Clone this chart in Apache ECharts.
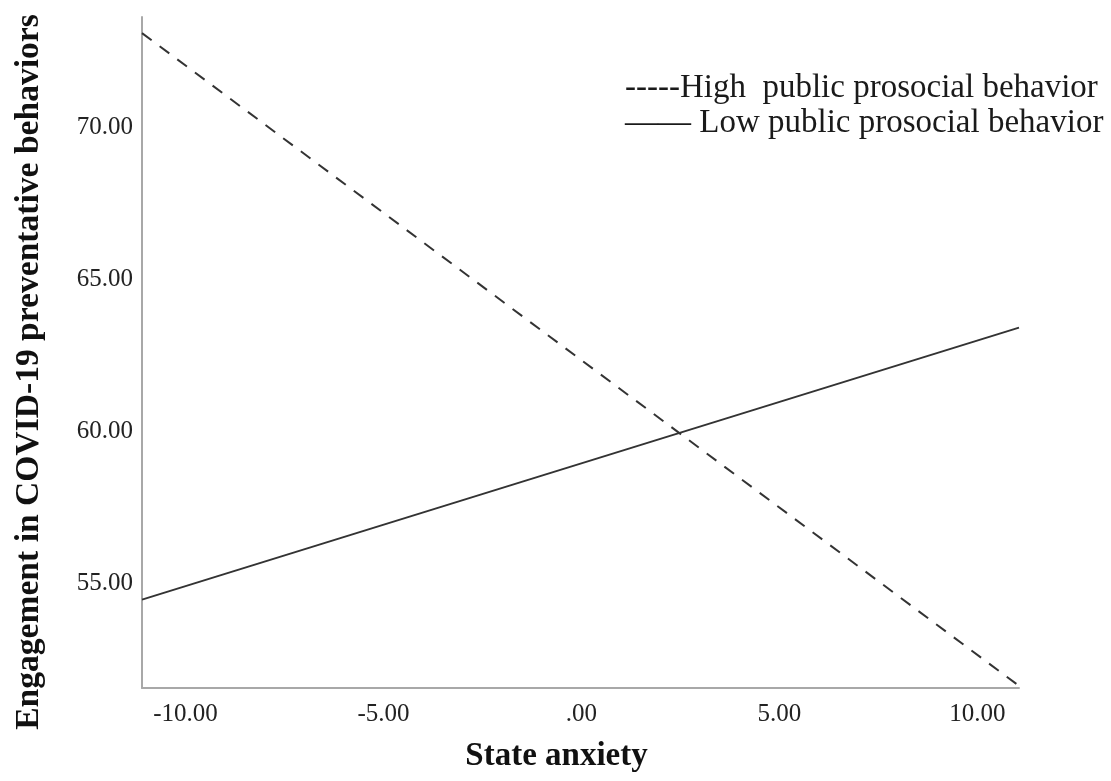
<!DOCTYPE html>
<html>
<head>
<meta charset="utf-8">
<script src="https://cdn.jsdelivr.net/npm/echarts@6/dist/echarts.min.js"></script>
<style>
html, body { margin: 0; padding: 0; background: #fff; }
#container { width: 1111px; height: 781px; }
</style>
</head>
<body>
<div id="container"></div>
<script>
var dom = document.getElementById("container");
var myChart = echarts.init(dom);

// values
var xRange = [-11.1, 11.05];
var yRange = [51.55, 73.65];
var highPublic = [[-11.1, 73.12], [11.05, 51.62]];
var lowPublic = [[-11.1, 54.46], [11.05, 63.42]];
var xTicks = [-10, -5, 0, 5, 10];
var yTicks = [55, 60, 65, 70];
var seriesNames = ['High  public prosocial behavior', 'Low public prosocial behavior'];

var serif = '"Liberation Serif", "DejaVu Serif", serif';

function fmt(v) {
    var s = Math.abs(v).toFixed(2);
    if (s.charAt(0) === '0') s = s.slice(1);
    return (v < 0 ? '-' : '') + s;
}

var option = {
    animation: false,
    backgroundColor: '#fff',
    grid: {
        left: 142,
        right: 92,
        top: 17,
        bottom: 93
    },
    legend: {
        orient: 'vertical',
        left: 615,
        top: 66,
        icon: 'none',
        itemGap: 0,
        itemWidth: 0,
        itemHeight: 0,
        selectedMode: false,
        data: seriesNames,
        formatter: function (name) {
            return (name === seriesNames[0] ? '-----' : '\u2014\u2014 ') + name;
        },
        textStyle: {
            fontFamily: serif,
            fontSize: 33,
            color: '#1a1a1a',
            lineHeight: 35,
            padding: 0
        }
    },
    xAxis: {
        type: 'value',
        min: xRange[0],
        max: xRange[1],
        name: 'State anxiety',
        nameLocation: 'middle',
        nameGap: 52,
        nameTextStyle: {
            fontFamily: serif,
            fontSize: 33,
            fontWeight: 'bold',
            color: '#111',
            padding: [0, 48, 0, 0]
        },
        axisLine: { onZero: false, lineStyle: { color: '#a8a8a8', width: 2 } },
        axisTick: { show: false },
        splitLine: { show: false },
        axisLabel: {
            customValues: xTicks,
            formatter: fmt,
            margin: 14,
            fontFamily: serif,
            fontSize: 25,
            color: '#222'
        }
    },
    yAxis: {
        type: 'value',
        min: yRange[0],
        max: yRange[1],
        name: 'Engagement in COVID-19 preventative behaviors',
        nameLocation: 'middle',
        nameGap: 96,
        nameTextStyle: {
            fontFamily: serif,
            fontSize: 33.6,
            fontWeight: 'bold',
            color: '#111',
            padding: [0, 39, 0, 0]
        },
        axisLine: { show: true, onZero: false, lineStyle: { color: '#a8a8a8', width: 2 } },
        axisTick: { show: false },
        splitLine: { show: false },
        axisLabel: {
            customValues: yTicks,
            formatter: fmt,
            margin: 9,
            fontFamily: serif,
            fontSize: 25,
            color: '#222'
        }
    },
    series: [{
        name: seriesNames[0],
        type: 'line',
        data: highPublic,
        symbol: 'none',
        lineStyle: { color: '#333', width: 2, type: [12, 10] }
    }, {
        name: seriesNames[1],
        type: 'line',
        data: lowPublic,
        symbol: 'none',
        lineStyle: { color: '#333', width: 2 }
    }]
};

myChart.setOption(option);
</script>
</body>
</html>
